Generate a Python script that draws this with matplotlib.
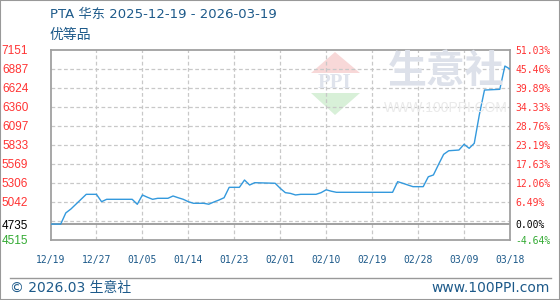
import matplotlib
matplotlib.use("Agg")
import matplotlib.pyplot as plt
import numpy as np
from matplotlib.patches import Polygon, Rectangle

# PTA East China, day offsets from 2025-12-19
days = [0, 2, 3, 4, 7, 9, 10, 11, 16, 17, 18, 19, 20, 21, 23, 24, 25, 26, 27, 28,
        30, 31, 32, 33, 34, 35, 37, 38, 39, 40, 44, 45, 46, 47, 48, 49, 52, 53, 54, 55,
        56, 67, 68, 69, 70, 71, 73, 74, 75, 76, 77, 78, 80, 81, 82, 83, 84, 85, 88, 89, 90]
prices = [4735, 4735, 4890, 4944, 5147, 5147, 5045, 5078, 5078, 5009, 5138, 5106, 5078, 5092, 5092, 5124, 5100, 5078, 5045, 5023,
          5023, 5010, 5041, 5068, 5100, 5244, 5244, 5345, 5276, 5308, 5300, 5230, 5170, 5160, 5138, 5147, 5147, 5170, 5210, 5190,
          5175, 5175, 5322, 5300, 5276, 5253, 5253, 5390, 5415, 5560, 5700, 5750, 5760, 5839, 5784, 5853, 6250, 6590, 6600, 6922, 6880]

base = 4735
ymin, ymax = 4515, 7151
left_labels = ["7151", "6887", "6624", "6360", "6097", "5833", "5569", "5306", "5042"]
right_labels = ["51.03%", "45.46%", "39.89%", "34.33%", "28.76%", "23.19%", "17.63%", "12.06%", "6.49%"]
date_labels = ["12/19", "12/27", "01/05", "01/14", "01/23", "02/01", "02/10", "02/19", "02/28", "03/09", "03/18"]

W, H = 560, 300
blue_txt = "#1d5a8a"
red = "#ff3333"
green = "#33aa33"

fig = plt.figure(figsize=(W / 100, H / 100), dpi=100)
ax = fig.add_axes([50.5 / W, 1 - 240 / H, 459.5 / W, 190.5 / H])
ax.set_xlim(0, 90)
ax.set_ylim(ymin, ymax)

# watermark logo + text
def px(pts):
    return [(x / W, 1 - y / H) for x, y in pts]
fig.add_artist(Polygon(px([(311, 73), (335, 52), (360, 73)]), closed=True,
                       facecolor="#f8d8d8", edgecolor="none", transform=fig.transFigure, zorder=0))
fig.add_artist(Polygon(px([(311, 93), (335, 115), (360, 93)]), closed=True,
                       facecolor="#d8f0d8", edgecolor="none", transform=fig.transFigure, zorder=0))
fig.text(335 / W, 1 - 83 / H, "PPI", ha="center", va="center", fontsize=15, fontweight="bold",
         color="#dfe3ec", family="Liberation Serif", zorder=0)
fig.text(446 / W, 1 - 72 / H, "生意社", ha="center", va="center", fontsize=28, fontweight="bold",
         color="#dde1ea", family=["Noto Sans CJK SC", "DejaVu Sans"], zorder=0)
fig.text(446 / W, 1 - 108 / H, "WWW.100PPI.COM", ha="center", va="center", fontsize=10,
         color="#eaeaea", family="Liberation Sans", zorder=0)

# grid
for v in np.linspace(ymin, ymax, 11)[1:-1]:
    ax.axhline(v, color="#c8c8c8", lw=0.9, ls=(0, (3, 2)), zorder=1)
for d in np.linspace(0, 90, 11)[1:-1]:
    ax.axvline(d, color="#c8c8c8", lw=0.9, ls=(0, (3, 2)), zorder=1)
ax.axhline(base, color="#999999", lw=1.3, zorder=2)

ax.plot(days, prices, color="#3399dd", lw=1.0, zorder=3)
ax.patch.set_alpha(0)

for s in ax.spines.values():
    s.set_color("#a0a0a0")
    s.set_linewidth(1.3)

# left ticks
ygrid = np.linspace(ymin, ymax, 11)[::-1]
yt = list(ygrid[:9]) + [base, ymin]
ax.set_yticks(yt)
ax.set_yticklabels(left_labels + ["4735", "4515"], family="Liberation Sans", fontsize=8.5)
for lab, c in zip(ax.get_yticklabels(), [red] * 9 + ["black", green]):
    lab.set_color(c)
ax.tick_params(axis="y", length=0, pad=16)

ax2 = ax.twinx()
ax2.set_ylim(ymin, ymax)
ax2.set_yticks(yt)
ax2.set_yticklabels(right_labels + ["0.00%", "-4.64%"], family="DejaVu Sans Mono", fontsize=7)
for lab, c in zip(ax2.get_yticklabels(), [red] * 9 + ["black", green]):
    lab.set_color(c)
ax2.tick_params(axis="y", length=0, pad=4)
for s in ax2.spines.values():
    s.set_visible(False)

ax.set_xticks(np.linspace(0, 90, 11))
ax.set_xticklabels(date_labels, family="DejaVu Sans Mono", fontsize=7, color=blue_txt)
ax.tick_params(axis="x", length=0, pad=11)

# titles
cjk = ["DejaVu Sans", "Noto Sans CJK SC"]
fig.text(50 / W, 1 - 14.5 / H, "PTA 华东 2025-12-19 - 2026-03-19", ha="left", va="center",
         fontsize=9.5, color=blue_txt, family=cjk)
fig.text(50 / W, 1 - 35 / H, "优等品", ha="left", va="center",
         fontsize=10, color=blue_txt, family=["Noto Sans CJK SC", "DejaVu Sans"])

# footer
fig.add_artist(plt.Line2D([10 / W, 551 / W], [1 - 277.5 / H] * 2, color="#999999", lw=1,
                          transform=fig.transFigure))
fig.text(10 / W, 1 - 288 / H, "© 2026.03 生意社", ha="left", va="center", fontsize=10,
         color=blue_txt, family=cjk)
fig.text(550 / W, 1 - 288 / H, "www.100PPI.com", ha="right", va="center", fontsize=10,
         color=blue_txt, family="DejaVu Sans")

fig.add_artist(Rectangle((0, 0), 1, 1, fill=False, edgecolor="#999999", lw=1.5,
                         transform=fig.transFigure))

fig.savefig("out.png", dpi=100)
